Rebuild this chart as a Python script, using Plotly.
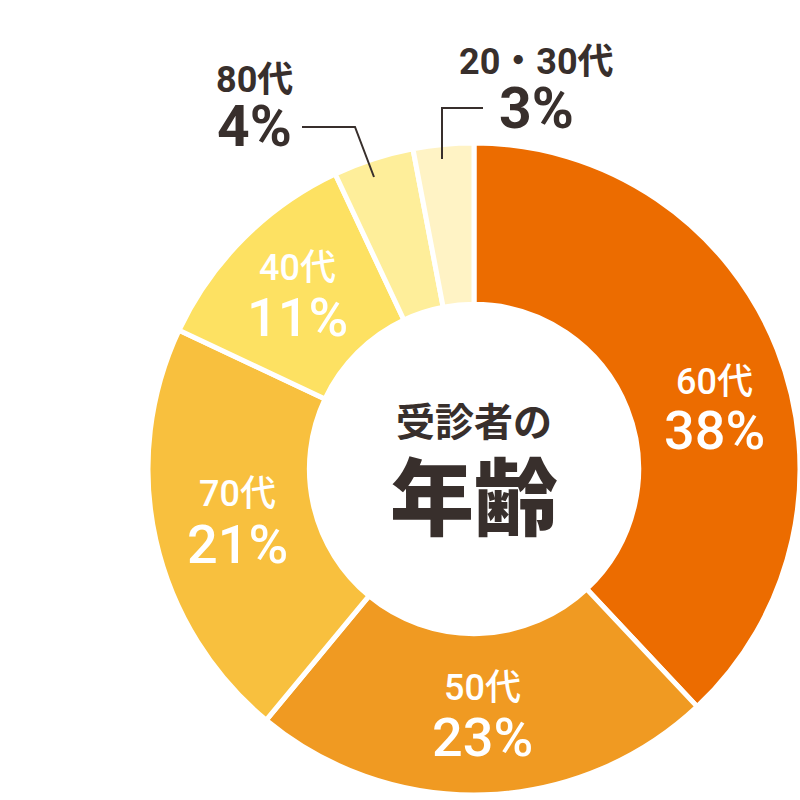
import plotly.graph_objects as go

# age groups, clockwise from 12 o'clock
labels = ["60代", "50代", "70代", "40代", "80代", "20・30代"]
values = [38, 23, 21, 11, 4, 3]
colors = ["#ec6c00", "#f09a22", "#f8c03e", "#fde162", "#feee9a", "#fff3c5"]

INK = "#382f2c"
FONT = "Roboto, 'Liberation Sans', 'Noto Sans CJK JP', sans-serif"
CJK = "'Noto Sans CJK JP', sans-serif"
W = H = 800

# label anchor points (px) and whether the label sits inside the ring
label_pos = {
    "60代": (714, 382, 431, True),
    "50代": (482, 688, 737, True),
    "70代": (237, 494, 544, True),
    "40代": (297, 268, 317, True),
    "80代": (254, 80, 127, False),
    "20・30代": (536, 62, 108, False),
}

cx, cy, r = 474, 469, 326

fig = go.Figure(
    go.Pie(
        labels=labels, values=values, sort=False, direction="clockwise",
        hole=0.505, textinfo="none", hoverinfo="label+percent",
        marker=dict(colors=colors, line=dict(color="white", width=5)),
        domain=dict(x=[(cx - r) / W, (cx + r) / W], y=[1 - (cy + r) / H, 1 - (cy - r) / H]),
        showlegend=False,
    )
)


def px(x, y):
    return x / W, 1 - y / H


annotations = []
for lab, v in zip(labels, values):
    x, y1, y2, inside = label_pos[lab]
    col = "white" if inside else INK
    wt = 500 if inside else 700
    ax, ay = px(x, y1)
    annotations.append(dict(x=ax, y=ay, text=lab, showarrow=False, xanchor="center", yanchor="middle",
                            font=dict(family=FONT, size=36, color=col, weight=wt)))
    ax, ay = px(x, y2)
    annotations.append(dict(x=ax, y=ay, text=f"{v}%", showarrow=False, xanchor="center", yanchor="middle",
                            font=dict(family=FONT, size=54 if inside else 57, color=col, weight=wt)))

annotations.append(dict(x=cx / W, y=1 - 419 / H, text="受診者の", showarrow=False,
                        xanchor="center", yanchor="middle",
                        font=dict(family=CJK, size=39, color=INK, weight=700)))
annotations.append(dict(x=cx / W, y=1 - 492 / H, text="年齢", showarrow=False,
                        xanchor="center", yanchor="middle",
                        font=dict(family=CJK, size=84, color=INK, weight=900)))

# leader lines for the two small slices
shapes = [
    dict(type="path", xref="paper", yref="paper",
         path="M {} {} L {} {} L {} {}".format(*px(302, 127), *px(355, 127), *px(374, 177)),
         line=dict(color=INK, width=2)),
    dict(type="path", xref="paper", yref="paper",
         path="M {} {} L {} {} L {} {}".format(*px(483, 108), *px(442, 108), *px(442, 159)),
         line=dict(color=INK, width=2)),
]

fig.update_layout(
    width=W, height=H, margin=dict(l=0, r=0, t=0, b=0),
    paper_bgcolor="white", plot_bgcolor="white",
    annotations=annotations, shapes=shapes,
)
fig.write_html("out.html", config={"displayModeBar": False},
               post_script="document.body.style.margin='0';")
